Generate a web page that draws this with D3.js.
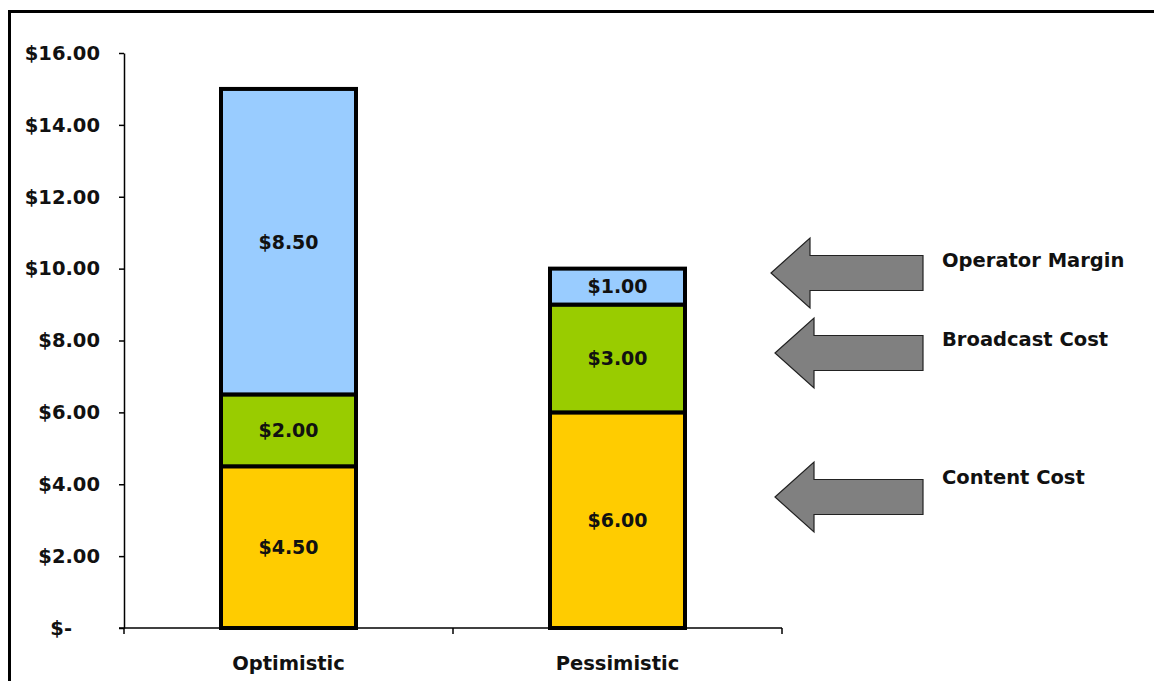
<!DOCTYPE html>
<html>
<head>
<meta charset="utf-8">
<script src="https://cdn.jsdelivr.net/npm/d3@7"></script>
<style>
  html, body { margin: 0; padding: 0; background: #fff; }
  svg { display: block; }
  text { font-family: "DejaVu Sans", sans-serif; font-weight: 700; fill: #111; }
</style>
</head>
<body>
<svg id="chart" width="1154" height="681"></svg>
<script>
// Cost breakdown per scenario (stacked bottom to top)
const scenarios = ["Optimistic", "Pessimistic"];
const components = ["Content Cost", "Broadcast Cost", "Operator Margin"];
const contentCost = [4.5, 6.0];
const broadcastCost = [2.0, 3.0];
const operatorMargin = [8.5, 1.0];
const yTicks = [0, 2, 4, 6, 8, 10, 12, 14, 16];
const componentColors = ["#FFCC00", "#99CC00", "#99CCFF"];

const svg = d3.select("#chart");
const W = 1154, H = 681;

// Outer frame
svg.append("rect")
  .attr("x", 9.5).attr("y", 11.5)
  .attr("width", W + 20).attr("height", H + 20)
  .attr("fill", "#fff").attr("stroke", "#000").attr("stroke-width", 3);

const x = d3.scaleBand().domain(scenarios).range([124, 782]).paddingInner(0).paddingOuter(0);
const y = d3.scaleLinear().domain([0, 16]).range([628, 53]);

const rows = scenarios.map((s, i) => ({
  scenario: s,
  "Content Cost": contentCost[i],
  "Broadcast Cost": broadcastCost[i],
  "Operator Margin": operatorMargin[i]
}));
const stacked = d3.stack().keys(components)(rows);

const barW = 135;
const fmt = v => "$" + d3.format(".2f")(v);

stacked.forEach((layer, li) => {
  const g = svg.append("g");
  layer.forEach(d => {
    const cx = x(d.data.scenario) + x.bandwidth() / 2;
    g.append("rect")
      .attr("x", cx - barW / 2)
      .attr("y", y(d[1]))
      .attr("width", barW)
      .attr("height", y(d[0]) - y(d[1]))
      .attr("fill", componentColors[li])
      .attr("stroke", "#000")
      .attr("stroke-width", 4);
    g.append("text")
      .attr("x", cx)
      .attr("y", (y(d[0]) + y(d[1])) / 2)
      .attr("dy", "0.36em")
      .attr("text-anchor", "middle")
      .attr("font-size", 19)
      .text(fmt(d[1] - d[0]));
  });
});

// Y axis
const yAxis = svg.append("g")
  .attr("transform", "translate(124,0)")
  .call(d3.axisLeft(y).tickValues(yTicks).tickSize(5).tickSizeOuter(0)
    .tickFormat(v => v === 0 ? "$-" : fmt(v)));
yAxis.select(".domain").attr("stroke", "#000").attr("stroke-width", 1.5);
yAxis.selectAll(".tick line").attr("stroke", "#000").attr("stroke-width", 1.5);
yAxis.selectAll(".tick text")
  .attr("x", d => d === 0 ? -52 : -24)
  .attr("font-size", 19.5)
  .attr("text-anchor", "end");

// X axis with ticks at category boundaries
const xg = svg.append("g").attr("transform", "translate(0,628)");
xg.append("line").attr("x1", 119).attr("x2", 782)
  .attr("stroke", "#000").attr("stroke-width", 1.5);
const boundaries = [x.range()[0]].concat(scenarios.map(s => x(s) + x.bandwidth()));
xg.selectAll("line.tk").data(boundaries).enter().append("line")
  .attr("class", "tk")
  .attr("x1", d => d).attr("x2", d => d)
  .attr("y1", 0).attr("y2", 6)
  .attr("stroke", "#000").attr("stroke-width", 1.5);
xg.selectAll("text").data(scenarios).enter().append("text")
  .attr("x", d => x(d) + x.bandwidth() / 2)
  .attr("y", 42)
  .attr("text-anchor", "middle")
  .attr("font-size", 19.5)
  .text(d => d);

// Callout arrows naming each component
const callouts = [
  { label: "Operator Margin", tipX: 771, cy: 273, ly: 260 },
  { label: "Broadcast Cost", tipX: 775, cy: 353, ly: 339 },
  { label: "Content Cost", tipX: 775, cy: 497, ly: 477 }
];
callouts.forEach(c => {
  const headX = c.tipX + 39, endX = 923, hh = 35, sh = 17.5;
  const pts = [
    [c.tipX, c.cy], [headX, c.cy - hh], [headX, c.cy - sh], [endX, c.cy - sh],
    [endX, c.cy + sh], [headX, c.cy + sh], [headX, c.cy + hh]
  ];
  svg.append("path")
    .attr("d", d3.line()(pts) + "Z")
    .attr("fill", "#808080")
    .attr("stroke", "#222")
    .attr("stroke-width", 1.2);
  svg.append("text")
    .attr("x", 942)
    .attr("y", c.ly)
    .attr("dy", "0.36em")
    .attr("font-size", 19.5)
    .text(c.label);
});
</script>
</body>
</html>
